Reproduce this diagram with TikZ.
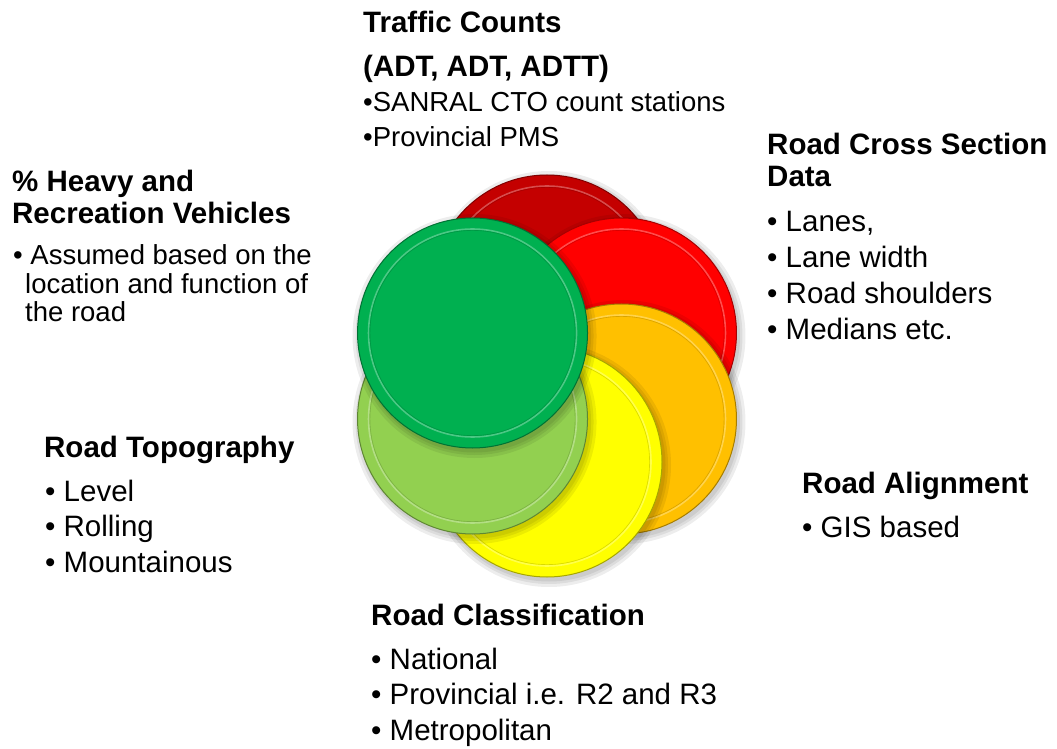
\documentclass[tikz,border=0pt]{standalone}
\usepackage{fontspec}
\setmainfont{Liberation Sans}
\usetikzlibrary{calc}

\definecolor{discdarkred}{RGB}{196,0,0}
\definecolor{discred}{RGB}{255,0,0}
\definecolor{discorange}{RGB}{255,192,0}
\definecolor{discyellow}{RGB}{255,255,0}
\definecolor{disclightgreen}{RGB}{146,208,80}
\definecolor{discgreen}{RGB}{0,176,80}

\begin{document}
\begin{tikzpicture}
  [x=1pt,y=1pt,
   every node/.style={inner sep=0pt,anchor=base west,align=left},
   head/.style={font=\fontsize{29.5}{32}\selectfont\bfseries},
   items/.style={font=\fontsize{29.5}{35.5}\selectfont},
   subitems/.style={font=\fontsize{27.5}{35}\selectfont}]
  \fill[white] (0,0) rectangle (1057,748);
  \useasboundingbox (0,0) rectangle (1057,748);

  % six discs round the hub, back to front
  \coordinate (hub) at (547,372);
  \foreach \ang/\col in {90/discdarkred,30/discred,-30/discorange,
                         -90/discyellow,210/disclightgreen,150/discgreen}{
    \coordinate (d\col) at ($(hub)+(\ang:86)$);
    \foreach \s in {7,4,1.5}
      \fill[black,opacity=.07] ($(d\col)+(2,-3)$) circle (115+\s);
    \fill[\col] (d\col) circle (115);
    \draw[\col!65!black,line width=1] (d\col) circle (115);
    \draw[\col!70!white,line width=1.6] (d\col) circle (104);
    \draw[\col!85!black,line width=.6] (d\col) circle (102.6);
  }

  % multi-line nodes sit on the baseline of their last line
  \node[head] (traffic) at (363,671) {Traffic Counts\\[12pt](ADT, ADT, ADTT)};
  \node[subitems] (trafficlist) at (363,601) {•SANRAL CTO count stations\\•Provincial PMS};

  \node[head] (heavy) at (12,524) {\% Heavy and\\Recreation Vehicles};
  \node[subitems,font=\fontsize{27.5}{28.5}\selectfont] (heavylist) at (13,426)
    {• Assumed based on the\\\hspace*{12pt}location and function of\\\hspace*{12pt}the road};

  \node[head] (topo) at (44,291) {Road Topography};
  \node[items] (topolist) at (45,176) {• Level\\• Rolling\\• Mountainous};

  \node[head] (cross) at (767,561) {Road Cross Section\\Data};
  \node[items,font=\fontsize{29.5}{36.3}\selectfont] (crosslist) at (767,408)
    {• Lanes,\\• Lane width\\• Road shoulders\\• Medians etc.};

  \node[head] (alignm) at (802,255) {Road Alignment};
  \node[items] (alignlist) at (802,211) {• GIS based};

  \node[head] (classif) at (371,123) {Road Classification};
  \node[items] (classlist) at (371,8) {• National\\• Provincial i.e. R2 and R3\\• Metropolitan};
\end{tikzpicture}
\end{document}
